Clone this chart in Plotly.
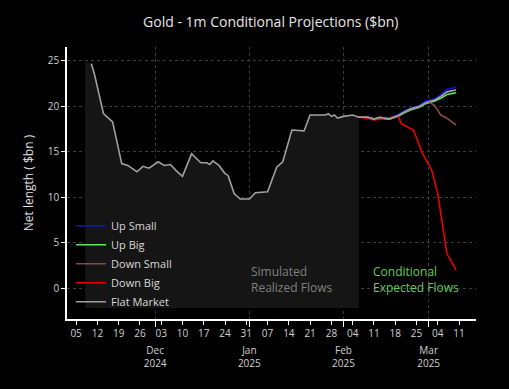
import plotly.graph_objects as go

# ---------------- data ----------------
realized_dates = ["2024-11-10", "2024-11-11", "2024-11-14", "2024-11-17", "2024-11-20", "2024-11-22",
                  "2024-11-25", "2024-11-27", "2024-11-29", "2024-12-02", "2024-12-04", "2024-12-06",
                  "2024-12-08", "2024-12-10", "2024-12-13", "2024-12-16", "2024-12-18", "2024-12-19",
                  "2024-12-20", "2024-12-22", "2024-12-24", "2024-12-25", "2024-12-27", "2024-12-29",
                  "2025-01-01", "2025-01-03", "2025-01-07", "2025-01-10", "2025-01-12", "2025-01-15",
                  "2025-01-19", "2025-01-21", "2025-01-24", "2025-01-26", "2025-01-27", "2025-01-28",
                  "2025-01-29", "2025-01-30", "2025-02-01", "2025-02-04", "2025-02-06"]
realized_vals = [24.7, 23.6, 19.2, 18.3, 13.7, 13.5,
                 12.8, 13.4, 13.2, 13.9, 13.5, 13.6,
                 12.9, 12.3, 14.8, 13.8, 13.8, 13.6,
                 14.0, 13.5, 12.6, 12.4, 10.4, 9.8,
                 9.8, 10.5, 10.6, 13.3, 13.9, 17.4,
                 17.3, 19.05, 19.05, 19.05, 19.2, 18.9,
                 19.05, 18.7, 18.9, 19.05, 18.8]

shade_start_date = "2024-11-08"
shade_start_val = 25.0
shade_floor = -2.2

proj_dates = ["2025-02-06", "2025-02-09", "2025-02-11", "2025-02-13", "2025-02-16", "2025-02-19",
              "2025-02-21", "2025-02-23", "2025-02-26", "2025-02-28", "2025-03-01", "2025-03-03",
              "2025-03-05", "2025-03-07", "2025-03-10"]
up_small = [18.8, 18.8, 18.6, 18.8, 18.7, 19.1, 19.5, 19.8, 20.1, 20.6, 20.7, 20.8, 21.3, 21.9, 22.1]
up_big = [18.8, 18.8, 18.6, 18.7, 18.6, 18.9, 19.3, 19.6, 19.9, 20.3, 20.4, 20.6, 20.9, 21.3, 21.5]
flat_proj = [18.8, 18.8, 18.6, 18.8, 18.6, 19.0, 19.4, 19.7, 20.0, 20.4, 20.5, 20.7, 21.1, 21.6, 21.8]
down_small_dates = ["2025-02-06", "2025-02-09", "2025-02-11", "2025-02-13", "2025-02-16", "2025-02-19",
                    "2025-02-21", "2025-02-23", "2025-02-26", "2025-02-28", "2025-03-01", "2025-03-03",
                    "2025-03-05", "2025-03-07", "2025-03-10"]
down_small = [18.8, 18.8, 18.6, 18.8, 18.6, 19.0, 19.4, 19.7, 20.0, 20.4, 20.5, 20.1, 19.05, 18.7, 17.95]
down_big_dates = ["2025-02-06", "2025-02-09", "2025-02-11", "2025-02-13", "2025-02-16", "2025-02-19",
                  "2025-02-20", "2025-02-24", "2025-02-27", "2025-03-02", "2025-03-04", "2025-03-05",
                  "2025-03-07", "2025-03-10"]
down_big = [18.8, 18.7, 18.5, 18.6, 18.7, 18.9, 18.1, 17.4, 14.8, 13.0, 10.4, 8.2, 3.8, 2.0]

week_ticks = ["2024-11-05", "2024-11-12", "2024-11-19", "2024-11-26", "2024-12-03", "2024-12-10",
              "2024-12-17", "2024-12-24", "2024-12-31", "2025-01-07", "2025-01-14", "2025-01-21",
              "2025-01-28", "2025-02-04", "2025-02-11", "2025-02-18", "2025-02-25", "2025-03-04",
              "2025-03-11"]
week_labels = [d[-2:] for d in week_ticks]
month_ticks = ["2024-12-01", "2025-01-01", "2025-02-01", "2025-03-01"]
month_labels = ["Dec<br>2024", "Jan<br>2025", "Feb<br>2025", "Mar<br>2025"]
y_ticks = [0, 5, 10, 15, 20, 25]

FONT = "Open Sans"
GRID = "#3c3c3c"
fig = go.Figure()

# shaded realized area
fig.add_trace(go.Scatter(x=[shade_start_date, realized_dates[-1]], y=[shade_floor, shade_floor],
                         mode="lines", line=dict(width=0), showlegend=False, hoverinfo="skip"))
fig.add_trace(go.Scatter(x=[shade_start_date] + realized_dates + [realized_dates[-1]],
                         y=[shade_start_val] + realized_vals + [shade_floor],
                         mode="lines", line=dict(width=0), fill="tonexty",
                         fillcolor="#151515", showlegend=False, hoverinfo="skip"))

fig.add_trace(go.Scatter(x=proj_dates, y=up_small, mode="lines", name="Up Small",
                         line=dict(color="#1010d8", width=1.6)))
fig.add_trace(go.Scatter(x=proj_dates, y=up_big, mode="lines", name="Up Big",
                         line=dict(color="#5ee85e", width=1.6)))
fig.add_trace(go.Scatter(x=down_small_dates, y=down_small, mode="lines", name="Down Small",
                         line=dict(color="#8a4a4a", width=1.6)))
fig.add_trace(go.Scatter(x=down_big_dates, y=down_big, mode="lines", name="Down Big",
                         line=dict(color="#ee0000", width=1.6)))
fig.add_trace(go.Scatter(x=realized_dates + proj_dates[1:], y=realized_vals + flat_proj[1:],
                         mode="lines", name="Flat Market",
                         line=dict(color="#a0a0a0", width=1.6)))

fig.add_trace(go.Scatter(x=[month_ticks[0]], y=[None], xaxis="x2", showlegend=False,
                         hoverinfo="skip"))

fig.add_annotation(x="2025-01-01", y=0.9, text="Simulated<br>Realized Flows", showarrow=False,
                   xanchor="left", align="left", font=dict(color="#808080", size=12, family=FONT))
fig.add_annotation(x="2025-02-10", y=0.9, text="Conditional<br>Expected Flows", showarrow=False,
                   xanchor="left", align="left", font=dict(color="#5fcf5f", size=12, family=FONT))

xr = ["2024-11-02", "2025-03-16 14:00"]
fig.update_layout(
    width=509, height=389,
    paper_bgcolor="black", plot_bgcolor="black",
    margin=dict(l=67, r=33, t=47, b=70),
    title=dict(text="Gold - 1m Conditional Projections ($bn)", x=0.532, xanchor="center",
               y=0.943, yanchor="middle", font=dict(color="#e6e6e6", size=14, family=FONT)),
    font=dict(family=FONT, color="#d0d0d0"),
    showlegend=True,
    legend=dict(x=0.01, y=0.01, xanchor="left", yanchor="bottom", bgcolor="rgba(0,0,0,0)",
                traceorder="normal", itemwidth=30,
                font=dict(size=11, color="#d8d8d8", family=FONT), tracegroupgap=0),
    xaxis=dict(type="date", range=xr, tickvals=week_ticks, ticktext=week_labels,
               showgrid=False, zeroline=False, showline=True, linecolor="white", linewidth=1.5,
               ticks="outside", ticklen=4, tickcolor="white", tickwidth=1,
               tickfont=dict(size=10, color="#d0d0d0", family=FONT)),
    xaxis2=dict(type="date", range=xr, overlaying="x", anchor="y", side="bottom",
                tickvals=month_ticks, ticktext=month_labels,
                showgrid=True, gridcolor=GRID, griddash="3px,3px", gridwidth=1,
                zeroline=False, showline=False,
                ticks="outside", ticklen=7, tickcolor="white", tickwidth=1.3,
                ticklabelstandoff=15,
                tickfont=dict(size=10, color="#d0d0d0", family=FONT)),
    yaxis=dict(range=[-3.41, 26.54], tickvals=y_ticks, showgrid=True, gridcolor=GRID,
               griddash="3px,3px", gridwidth=1, zeroline=False, showline=True, linecolor="white",
               linewidth=1.5, ticks="outside", ticklen=4, tickcolor="white",
               tickfont=dict(size=10, color="#d0d0d0", family=FONT),
               title=dict(text="Net length ( $bn )", font=dict(size=12, color="#e0e0e0", family=FONT),
                          standoff=12)),
)

fig.write_html("out.html", config={"displayModeBar": False},
               post_script="document.body.style.margin='0px';")
